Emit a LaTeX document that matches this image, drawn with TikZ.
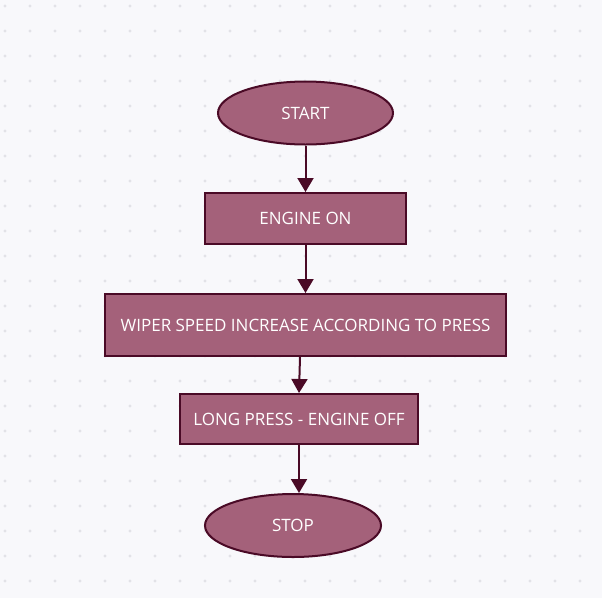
\documentclass[tikz,border=0pt]{standalone}
\usepackage{fontspec}
\setmainfont{Open Sans}
\usetikzlibrary{shapes.geometric,arrows.meta}
\definecolor{bgc}{HTML}{F8F8FB}
\definecolor{dotc}{HTML}{E2E2E7}
\definecolor{boxfill}{HTML}{A4617A}
\definecolor{boxline}{HTML}{4A0A26}
\tikzset{
  base/.style={fill=boxfill, draw=boxline, line width=2pt, text=white, font=\fontsize{17}{20}\selectfont, inner sep=0pt},
  term/.style={base, ellipse, minimum width=#1, minimum height=63pt},
  procbox/.style={base, rectangle, minimum height=#1},
  arr/.style={draw=boxline, line width=2pt, -{Triangle[length=14pt,width=16pt]}}
}
\begin{document}
\begin{tikzpicture}[x=1pt,y=-1pt]
\fill[bgc] (0,0) rectangle (602,598);
\useasboundingbox (0,0) rectangle (602,598);
\foreach \i in {0,...,23}{
  \foreach \j in {0,...,23}{
    \fill[dotc] (5+25*\i,6+25*\j) circle (1.6pt);
  }
}
\node[term=175pt] (start) at (305.5,113) {START};
\node[procbox=51pt, minimum width=201pt] (engine) at (305.5,218.5) {ENGINE ON};
\node[procbox=62pt, minimum width=401pt] (wiper) at (305.5,325) {WIPER SPEED INCREASE ACCORDING TO PRESS};
\node[procbox=50pt, minimum width=238pt] (long) at (299,419) {LONG PRESS - ENGINE OFF};
\node[term=176pt] (stop) at (293,525.5) {STOP};
\draw[arr] (start) -- (engine);
\draw[arr] (engine) -- (wiper);
\draw[arr] ([xshift=-5.5pt]wiper.south) -- (long.north);
\draw[arr] (long.south) -- (long.south |- stop.north);
\end{tikzpicture}
\end{document}
